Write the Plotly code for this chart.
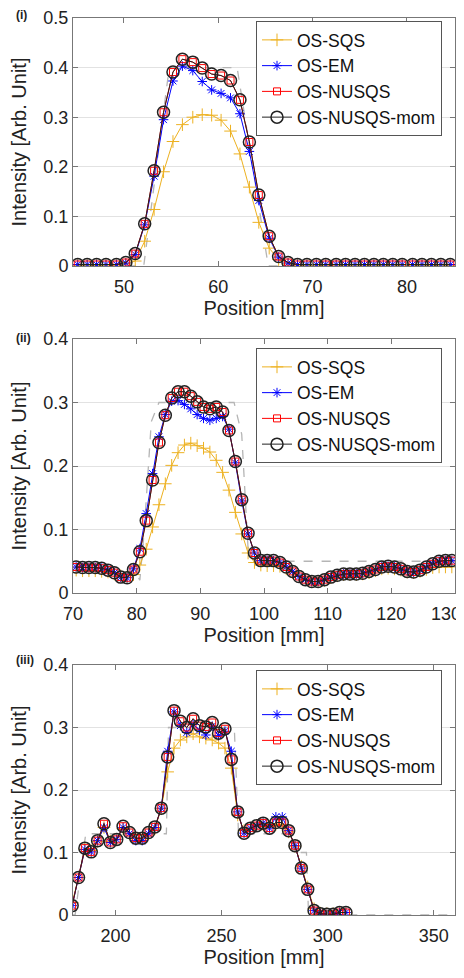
import plotly.graph_objects as go

# ---------------- Panel (i) ----------------
x1 = [45.1, 46.1, 47.1, 48.1, 49.2, 50.2, 51.2, 52.2, 53.2, 54.2,
      55.2, 56.2, 57.3, 58.3, 59.3, 60.3, 61.3, 62.3, 63.3, 64.3,
      65.4, 66.4, 67.4, 68.4, 69.4, 70.4, 71.4, 72.5, 73.5, 74.5,
      75.5, 76.5, 77.5, 78.5, 79.5, 80.6, 81.6, 82.6, 83.6, 84.6]
sqs1 = [0.002, 0.002, 0.002, 0.002, 0.002, 0.004, 0.010, 0.050, 0.114, 0.190,
        0.251, 0.285, 0.300, 0.305, 0.304, 0.294, 0.272, 0.226, 0.159, 0.088,
        0.036, 0.013, 0.004, 0.002, 0.002, 0.002, 0.002, 0.002, 0.002, 0.002,
        0.002, 0.002, 0.002, 0.002, 0.002, 0.002, 0.002, 0.002, 0.002, 0.002]
em1 = [0.003, 0.003, 0.003, 0.003, 0.003, 0.006, 0.023, 0.083, 0.181, 0.295,
       0.373, 0.403, 0.394, 0.372, 0.355, 0.348, 0.339, 0.307, 0.231, 0.132,
       0.056, 0.018, 0.006, 0.003, 0.003, 0.003, 0.003, 0.003, 0.003, 0.003,
       0.003, 0.003, 0.003, 0.003, 0.003, 0.003, 0.003, 0.003, 0.003, 0.003]
nusqs1 = [0.003, 0.003, 0.003, 0.003, 0.003, 0.007, 0.025, 0.085, 0.192, 0.310,
          0.391, 0.417, 0.411, 0.399, 0.387, 0.384, 0.374, 0.335, 0.250, 0.143,
          0.060, 0.019, 0.007, 0.003, 0.003, 0.003, 0.003, 0.003, 0.003, 0.003,
          0.003, 0.003, 0.003, 0.003, 0.003, 0.003, 0.003, 0.003, 0.003, 0.003]
mom1 = list(nusqs1)
gt1_x = [44.6, 52.1, 54.8, 62.0, 65.3, 85.1]
gt1_y = [0.0, 0.0, 0.4, 0.4, 0.0, 0.0]

# ---------------- Panel (ii) ----------------
x2 = [70.5, 71.5, 72.5, 73.5, 74.5, 75.5, 76.5, 77.5, 78.5, 79.5,
      80.5, 81.5, 82.5, 83.5, 84.5, 85.5, 86.5, 87.5, 88.5, 89.5,
      90.5, 91.5, 92.5, 93.5, 94.5, 95.5, 96.5, 97.5, 98.5, 99.5,
      100.5, 101.5, 102.5, 103.5, 104.5, 105.5, 106.5, 107.5, 108.5, 109.5,
      110.5, 111.5, 112.5, 113.5, 114.5, 115.5, 116.5, 117.5, 118.5, 119.5,
      120.5, 121.5, 122.5, 123.5, 124.5, 125.5, 126.5, 127.5, 128.5, 129.5]
sqs2 = [0.036, 0.035, 0.035, 0.035, 0.034, 0.033, 0.030, 0.027, 0.025, 0.029,
        0.044, 0.069, 0.104, 0.139, 0.172, 0.201, 0.221, 0.233, 0.236, 0.232,
        0.228, 0.222, 0.209, 0.190, 0.162, 0.127, 0.093, 0.063, 0.048, 0.044,
        0.043, 0.043, 0.042, 0.038, 0.032, 0.026, 0.021, 0.018, 0.018, 0.020,
        0.024, 0.027, 0.029, 0.029, 0.029, 0.030, 0.032, 0.035, 0.038, 0.039,
        0.038, 0.036, 0.033, 0.032, 0.034, 0.037, 0.040, 0.041, 0.041, 0.041]
em2 = [0.041, 0.040, 0.040, 0.040, 0.039, 0.036, 0.032, 0.025, 0.024, 0.038,
       0.070, 0.125, 0.188, 0.246, 0.281, 0.302, 0.303, 0.297, 0.290, 0.281,
       0.275, 0.272, 0.275, 0.278, 0.258, 0.205, 0.145, 0.093, 0.063, 0.051,
       0.051, 0.051, 0.048, 0.041, 0.034, 0.026, 0.021, 0.018, 0.018, 0.021,
       0.025, 0.028, 0.030, 0.030, 0.030, 0.031, 0.034, 0.037, 0.041, 0.042,
       0.041, 0.038, 0.034, 0.033, 0.036, 0.041, 0.046, 0.050, 0.051, 0.051]
nusqs2 = [0.041, 0.040, 0.040, 0.040, 0.039, 0.036, 0.032, 0.025, 0.024, 0.037,
          0.065, 0.114, 0.178, 0.237, 0.280, 0.307, 0.317, 0.317, 0.310, 0.301,
          0.293, 0.290, 0.293, 0.285, 0.256, 0.207, 0.147, 0.094, 0.063, 0.051,
          0.051, 0.051, 0.048, 0.041, 0.034, 0.026, 0.021, 0.018, 0.018, 0.021,
          0.025, 0.028, 0.030, 0.030, 0.030, 0.031, 0.034, 0.037, 0.041, 0.042,
          0.041, 0.038, 0.034, 0.033, 0.036, 0.041, 0.046, 0.050, 0.051, 0.051]
mom2 = list(nusqs2)
gt2_x = [70, 79.5, 80.5, 81.2, 82.3, 83.5, 95.3, 96.5, 97.5, 98.5, 130]
gt2_y = [0.04, 0.04, 0.02, 0.10, 0.27, 0.30, 0.30, 0.25, 0.07, 0.05, 0.05]

# ---------------- Panel (iii) ----------------
x3 = [179.6, 182.6, 185.6, 188.6, 191.6, 194.6, 197.6, 200.6, 203.6, 206.6,
      209.6, 212.6, 215.6, 218.6, 221.6, 224.6, 227.6, 230.6, 233.6, 236.6,
      239.6, 242.6, 245.6, 248.6, 251.6, 254.6, 257.6, 260.6, 263.6, 266.6,
      269.6, 272.6, 275.6, 278.6, 281.6, 284.6, 287.6, 290.6, 293.6, 296.6,
      299.6, 302.6, 305.6, 308.6]
sqs3 = [0.020, 0.060, 0.105, 0.103, 0.118, 0.140, 0.118, 0.121, 0.138, 0.130,
        0.122, 0.122, 0.130, 0.138, 0.170, 0.229, 0.267, 0.280, 0.285, 0.290,
        0.285, 0.283, 0.280, 0.275, 0.267, 0.235, 0.160, 0.135, 0.139, 0.143,
        0.145, 0.142, 0.145, 0.145, 0.133, 0.110, 0.078, 0.045, 0.010, 0.003,
        0.002, 0.002, 0.004, 0.004]
em3 = [0.015, 0.060, 0.105, 0.101, 0.119, 0.140, 0.116, 0.121, 0.140, 0.130,
       0.119, 0.119, 0.130, 0.140, 0.171, 0.262, 0.325, 0.303, 0.292, 0.305,
       0.296, 0.288, 0.302, 0.287, 0.294, 0.262, 0.165, 0.131, 0.139, 0.143,
       0.147, 0.139, 0.157, 0.157, 0.135, 0.111, 0.075, 0.041, 0.007, 0.002,
       0.001, 0.001, 0.004, 0.004]
nusqs3 = [0.015, 0.060, 0.107, 0.101, 0.119, 0.146, 0.116, 0.121, 0.142, 0.132,
          0.123, 0.123, 0.132, 0.141, 0.171, 0.253, 0.327, 0.310, 0.300, 0.314,
          0.303, 0.301, 0.308, 0.291, 0.298, 0.249, 0.165, 0.131, 0.139, 0.143,
          0.147, 0.139, 0.148, 0.148, 0.135, 0.111, 0.075, 0.041, 0.007, 0.002,
          0.001, 0.001, 0.004, 0.004]
mom3 = list(nusqs3)
gt3_x = [180, 181, 186, 224, 225, 256, 258, 283, 284, 290, 291, 360]
gt3_y = [0.0, 0.0, 0.13, 0.13, 0.30, 0.30, 0.13, 0.13, 0.10, 0.10, 0.0, 0.0]

series_names = ["OS-SQS", "OS-EM", "OS-NUSQS", "OS-NUSQS-mom"]
panel_labels = ["(i)", "(ii)", "(iii)"]
x_ranges = [[44.6, 85.1], [70, 130], [180, 360]]
y_ranges = [[0, 0.5], [0, 0.4], [0, 0.4]]
x_ticks = [[50, 60, 70, 80], [70, 80, 90, 100, 110, 120, 130], [200, 250, 300, 350]]
y_ticks = [[0, 0.1, 0.2, 0.3, 0.4, 0.5], [0, 0.1, 0.2, 0.3, 0.4], [0, 0.1, 0.2, 0.3, 0.4]]

panels = [
    (x1, sqs1, em1, nusqs1, mom1, gt1_x, gt1_y),
    (x2, sqs2, em2, nusqs2, mom2, gt2_x, gt2_y),
    (x3, sqs3, em3, nusqs3, mom3, gt3_x, gt3_y),
]

# The page body adds an 8px margin, so the figure is 8px smaller than the window
# and all pixel positions below are (window position - 8).
W, H = 456, 970
FONT = "Liberation Sans, Arial, sans-serif"
boxes = [(10, 258), (331, 585), (657, 907)]   # (top, bottom) of each axes box
label_y = [7, 330, 652]
left_px, right_px = 65, 447
legend_tops = [13, 340, 662]
legend_left = 248

styles = [
    dict(color="#EDB120", symbol="cross-thin-open", size=9, lw=1.0, linecolor="#EDB120"),
    dict(color="#0000FF", symbol="asterisk-open", size=8, lw=1.0, linecolor="#0000FF"),
    dict(color="#FF0000", symbol="square-open", size=7, lw=1.0, linecolor="#FF0000"),
    dict(color="#222222", symbol="circle-open", size=12, lw=1.5, linecolor="#222222"),
]

fig = go.Figure()
layout = dict(
    width=W, height=H, margin=dict(l=0, r=0, t=0, b=0, autoexpand=False),
    paper_bgcolor="white", plot_bgcolor="white",
    font=dict(family=FONT, size=18, color="#222222"),
    annotations=[],
)

for p, (xs, s, e, n, m, gx, gy) in enumerate(panels):
    k = "" if p == 0 else str(p + 1)
    xa, ya = "x" + k, "y" + k
    leg = "legend" + k
    fig.add_trace(go.Scatter(x=gx, y=gy, xaxis=xa, yaxis=ya, mode="lines",
                             line=dict(color="#b5b5b5", width=1.3, dash="dash"),
                             showlegend=False, hoverinfo="skip"))
    for name, vals, st in zip(series_names, [s, e, n, m], styles):
        fig.add_trace(go.Scatter(
            x=xs, y=vals, xaxis=xa, yaxis=ya, mode="lines+markers", name=name,
            legend=leg,
            line=dict(color=st["linecolor"], width=1),
            marker=dict(symbol=st["symbol"], size=st["size"], color=st["color"],
                        line=dict(color=st["color"], width=st["lw"])),
        ))
    top, bot = boxes[p]
    tickvals = x_ticks[p]
    ticktext = [str(v) for v in tickvals]
    if p == 1:
        # the right-most label sits at the page edge: draw it right-aligned instead
        ticktext[-1] = ""
        layout["annotations"].append(dict(
            text=str(tickvals[-1]), xref=xa, x=tickvals[-1], xanchor="right", xshift=8,
            yref=ya + " domain", y=0, yanchor="middle", yshift=-21,
            showarrow=False, font=dict(family=FONT, size=18, color="#222222"),
        ))
    layout["xaxis" + k] = dict(
        domain=[left_px / W, right_px / W], anchor=ya, range=x_ranges[p],
        tickvals=tickvals, ticktext=ticktext,
        ticks="inside", ticklen=5, tickcolor="#777777",
        showline=True, linecolor="#777777", linewidth=1, mirror="ticks",
        showgrid=False, zeroline=False, automargin=False,
        ticklabelstandoff=4, ticklabeloverflow="allow",
        tickfont=dict(family=FONT, size=18, color="#222222"),
        title=dict(text="Position [mm]", font=dict(family=FONT, size=20, color="#222222"),
                   standoff=4),
    )
    layout["yaxis" + k] = dict(
        domain=[1 - bot / H, 1 - top / H], anchor=xa, range=y_ranges[p],
        tickvals=y_ticks[p], ticks="inside", ticklen=5, tickcolor="#777777",
        showline=True, linecolor="#777777", linewidth=1, mirror="ticks",
        showgrid=True, gridcolor="#e2e2e2", gridwidth=1, zeroline=False,
        automargin=False, ticklabeloverflow="allow",
        tickfont=dict(family=FONT, size=18, color="#222222"),
        title=dict(text="Intensity [Arb. Unit]",
                   font=dict(family=FONT, size=20, color="#222222"), standoff=16),
    )
    layout[leg] = dict(
        x=legend_left / W, y=1 - legend_tops[p] / H, xanchor="left", yanchor="top",
        bgcolor="white", bordercolor="#555555", borderwidth=1,
        font=dict(family=FONT, size=17.5, color="#111111"),
        itemwidth=30, tracegroupgap=0,
    )
    layout["annotations"].append(dict(
        text="<b>" + panel_labels[p] + "</b>", xref="paper", yref="paper",
        x=6 / W, y=1 - label_y[p] / H, xanchor="left", yanchor="middle",
        showarrow=False, font=dict(family=FONT, size=12, color="#222222"),
    ))

fig.update_layout(**layout)
fig.write_html("out.html")
